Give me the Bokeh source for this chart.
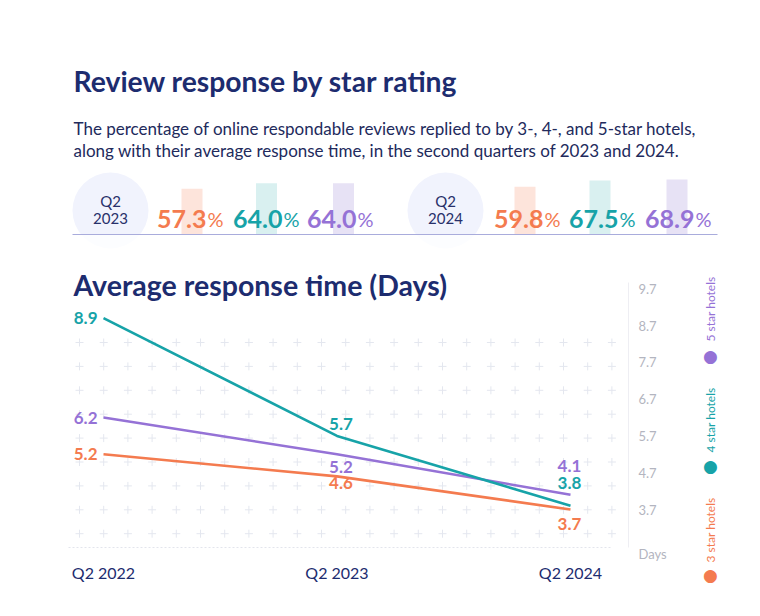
import numpy as np
from bokeh.plotting import figure
from bokeh.models import Range1d, FixedTicker, Label, LinearAxis
from bokeh.core.properties import value
from bokeh.embed import file_html
from bokeh.resources import INLINE

# ---------------- data ----------------
title_text = "Review response by star rating"
subtitle_lines = [
    "The percentage of online respondable reviews replied to by 3-, 4-, and 5-star hotels,",
    "along with their average response time, in the second quarters of 2023 and 2024.",
]
kpi_quarter = ["Q2", "Q2"]
kpi_year = ["2023", "2024"]
reply_3 = [57.3, 59.8]
reply_4 = [64.0, 67.5]
reply_5 = [64.0, 68.9]

chart_title = "Average response time (Days)"
quarters = ["Q2 2022", "Q2 2023", "Q2 2024"]
days_3 = [5.2, 4.6, 3.7]
days_4 = [8.9, 5.7, 3.8]
days_5 = [6.2, 5.2, 4.1]
day_ticks = [3.7, 4.7, 5.7, 6.7, 7.7, 8.7, 9.7]
series_names = ["3 star hotels", "4 star hotels", "5 star hotels"]

# ---------------- style ----------------
FONT = value("Lato")
NAVY = "#1d2c6f"
ORANGE = "#f47b4f"
TEAL = "#17a3a8"
PURPLE = "#9572d6"
PALE = {ORANGE: "#fde4db", TEAL: "#d9f0f0", PURPLE: "#e7e2f5"}
GREY = "#b3b5c0"

# frame: canvas x 0..720, y 0..580 ; data x: 0 -> 103px, 2 -> 570px ; y: 3.7 -> 509px
XPX = 233.5
YPX = 36.8
FR_R, FR_B = 720, 584


def dx(px):
    return (px - 103) / XPX


def dy(py):
    return 3.7 + (509 - py) / YPX


p = figure(width=760, height=616, x_range=Range1d(dx(0), dx(FR_R)),
           y_range=Range1d(dy(FR_B), dy(0)), x_axis_location=None, y_axis_location=None,
           title_location=None, output_backend="svg", toolbar_location=None,
           min_border_left=0, min_border_right=760 - FR_R, min_border_top=0,
           min_border_bottom=616 - FR_B)
p.extra_x_ranges = {"px": Range1d(0, FR_R)}
p.extra_y_ranges = {"py": Range1d(FR_B, 0)}
p.grid.visible = False
p.outline_line_color = None
p.background_fill_color = "white"
p.border_fill_color = "white"
PXR = dict(x_range_name="px", y_range_name="py")

# ---------------- header ----------------
p.text(x=[73], y=[80], text=[title_text], text_font=FONT, text_font_style="bold",
       text_font_size="28.3px", text_color=NAVY, text_baseline="middle", **PXR)
p.text(x=[73, 73], y=[128, 150], text=subtitle_lines, text_font=FONT, text_font_size="17px",
       text_color="#222a5c", text_baseline="middle", **PXR)

circle_x = [110, 445]
p.circle(x=circle_x, y=[210, 210], radius=38, fill_color="#f1f3fd", line_color=None, **PXR)

colors = [ORANGE, TEAL, PURPLE]
bar_x = [[191.5, 266, 343], [524.5, 599.5, 676.5]]
pct_x = [[207, 283, 357], [544, 619, 695]]
rates = [reply_3, reply_4, reply_5]

bx, btop, bcol, nx, ntext, ncol, px_ = [], [], [], [], [], [], []
for i in range(2):
    for k in range(3):
        v = rates[k][i]
        bx.append(bar_x[i][k])
        btop.append(234 - v * 0.8)
        bcol.append(PALE[colors[k]])
        nx.append(pct_x[i][k] - 1)
        ntext.append(f"{v:.1f}")
        ncol.append(colors[k])
        px_.append(pct_x[i][k])

p.vbar(x=bx, width=21, top=btop, bottom=234, fill_color=bcol, line_color=None, **PXR)
p.quad(left=[60], right=[500], top=[234.5], bottom=[253], fill_color="white",
       fill_alpha=0.8, line_color=None, **PXR)
p.segment(x0=[72], y0=[234], x1=[717], y1=[234], line_color="#a9acdc", line_width=1.2, **PXR)

p.text(x=circle_x, y=[200, 200], text=kpi_quarter, text_font=FONT, text_font_size="15px",
       text_color="#28306a", text_align="center", text_baseline="middle", **PXR)
p.text(x=circle_x, y=[218, 218], text=kpi_year, text_font=FONT, text_font_size="15px",
       text_color="#28306a", text_align="center", text_baseline="middle", **PXR)

p.text(x=nx, y=[218] * 6, text=ntext, text_font=FONT, text_font_style="bold",
       text_font_size="25px", text_color=ncol, text_align="right",
       text_baseline="alphabetic", **PXR)
p.text(x=px_, y=[218] * 6, text=["%"] * 6, text_font=FONT,
       text_font_size="20px", text_color=ncol, text_align="left",
       text_baseline="alphabetic", **PXR)

p.text(x=[73], y=[284], text=[chart_title], text_font=FONT, text_font_style="bold",
       text_font_size="28.5px", text_color=NAVY, text_baseline="middle", **PXR)

# ---------------- chart ----------------
xs = [0, 1, 2]

# decorative cross pattern
gx = dx(79) + (24.2 / XPX) * np.arange(23)
gy = dy(342) - (23.9 / YPX) * np.arange(9)
GX, GY = np.meshgrid(gx, gy)
p.scatter(x=GX.ravel(), y=GY.ravel(), marker="cross", size=8, line_color="#e4e7ef",
          line_width=1)

# dotted baseline
p.segment(x0=[dx(68)], y0=[dy(547)], x1=[dx(612)], y1=[dy(547)], line_color="#e3e5ec",
          line_dash="2 2", line_width=1)

# bottom axis (quarters)
xa = LinearAxis(fixed_location=dy(562))
xa.ticker = FixedTicker(ticks=xs)
xa.major_label_overrides = {i: q for i, q in zip(xs, quarters)}
xa.major_tick_out = 0
xa.major_tick_in = 0
xa.minor_tick_out = 0
xa.minor_tick_in = 0
xa.axis_line_color = None
xa.major_label_standoff = 0
xa.major_label_text_font = "Lato"
xa.major_label_text_font_size = "16px"
xa.major_label_text_color = NAVY
p.add_layout(xa, "below")

# right axis (days)
ya = LinearAxis(fixed_location=dx(628), bounds=(dy(547), dy(282)))
ya.ticker = FixedTicker(ticks=day_ticks)
ya.major_label_overrides = {t: f"{t:.1f}" for t in day_ticks}
ya.major_tick_out = 0
ya.major_tick_in = 0
ya.minor_tick_out = 0
ya.minor_tick_in = 0
ya.axis_line_color = "#eeeef3"
ya.major_label_standoff = 10
ya.major_label_text_font = "Lato"
ya.major_label_text_font_size = "13px"
ya.major_label_text_color = GREY
p.add_layout(ya, "right")

series = [(days_3, ORANGE), (days_5, PURPLE), (days_4, TEAL)]
for ys, col in series:
    p.line(x=xs, y=ys, line_color=col, line_width=2.6)

LBL = dict(text_font=FONT, text_font_style="bold", text_font_size="17px",
           text_baseline="middle")
p.text(x=[0, 0, 0], y=[days_3[0], days_4[0], days_5[0]],
       text=[f"{v:.1f}" for v in (days_3[0], days_4[0], days_5[0])],
       text_color=[ORANGE, TEAL, PURPLE], text_align="right", x_offset=-6, **LBL)
for ys, col, off in [(days_3, ORANGE, 7), (days_4, TEAL, -12), (days_5, PURPLE, 13)]:
    p.text(x=[1], y=[ys[1]], text=[f"{ys[1]:.1f}"], text_color=col, text_align="center",
           x_offset=4, y_offset=off, **LBL)
for ys, col, off in [(days_3, ORANGE, 14), (days_4, TEAL, -23), (days_5, PURPLE, -29)]:
    p.text(x=[2], y=[ys[2]], text=[f"{ys[2]:.1f}"], text_color=col, text_align="center",
           x_offset=-1, y_offset=off, **LBL)

# unit label
p.add_layout(Label(x=dx(638), y=dy(553), text="Days", text_font="Lato",
                   text_font_size="13px", text_color=GREY, text_baseline="middle"))

# vertical legend
for name, col, ty, cy in [(series_names[2], PURPLE, 341, 355),
                          (series_names[1], TEAL, 452, 465),
                          (series_names[0], ORANGE, 562, 574)]:
    p.add_layout(Label(x=dx(710), y=dy(ty), text=name, angle=np.pi / 2, text_font="Lato",
                       text_font_size="12px", text_color=col, text_align="left",
                       text_baseline="middle"))
    p.add_layout(Label(x=dx(710), y=dy(cy), text="\u25cf", text_font="DejaVu Sans",
                       text_font_size="17px", text_color=col, text_align="center",
                       text_baseline="middle"))

open("out.html", "w").write(file_html(p, INLINE))
